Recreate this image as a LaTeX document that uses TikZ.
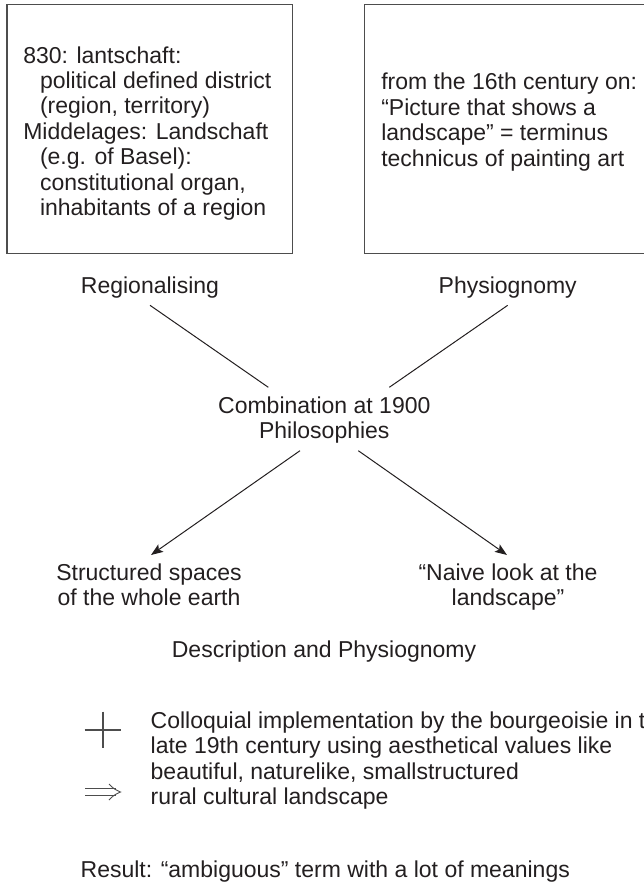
\documentclass[tikz,border=0pt]{standalone}
\usepackage{fontspec}
\setmainfont{Liberation Sans}
\usetikzlibrary{arrows.meta,calc}
\definecolor{ink}{HTML}{231F20}
\definecolor{frame}{HTML}{4D4D4D}
% stacked lines whose baseline is the baseline of the first line
\newcommand\leftlines[1]{\begin{tabular}[t]{@{}l@{}}#1\end{tabular}}
\newcommand\midlines[1]{\begin{tabular}[t]{@{}c@{}}#1\end{tabular}}
\begin{document}
\begin{tikzpicture}[x=1pt,y=-1pt,
  every node/.style={inner sep=0pt, outer sep=0pt, text=ink,
    font=\fontsize{23}{25.4}\selectfont},
  framebox/.style={draw=frame, line width=1.4pt, rectangle, anchor=north west},
  conn/.style={draw=ink, line width=1pt},
  arr/.style={conn, -{Stealth[length=12pt,width=9pt,inset=2.5pt]}},
  glyph/.style={draw=frame, line width=1.1pt}]
\useasboundingbox (0,0) rectangle (644,884);

% the two source boxes
\node[framebox, minimum width=285.7pt, minimum height=248.8pt] (lbox) at (7,4.5) {};
\node[framebox, minimum width=400pt, minimum height=248.8pt] (rbox) at (364.7,4.5) {};

\node[anchor=base west] (ltext) at (23.3,63) {\leftlines{%
  830: lantschaft:\\
  \hspace*{16.7pt}political defined district\\
  \hspace*{16.7pt}(region, territory)\\
  Middelages: Landschaft\\
  \hspace*{16.7pt}(e.g. of Basel):\\
  \hspace*{16.7pt}constitutional organ,\\
  \hspace*{16.7pt}inhabitants of a region}};

\node[anchor=base west] (rtext) at (381.3,89.8) {\leftlines{%
  from the 16th century on:\\
  “Picture that shows a\\
  landscape” = terminus\\
  technicus of painting art}};

% labels of the cross
\node[anchor=base] (reg) at (150,293) {Regionalising};
\node[anchor=base] (phys) at (507.7,293) {Physiognomy};
\node[anchor=base] (comb) at (324.3,413) {\midlines{Combination at 1900\\Philosophies}};
\node[anchor=base] (struct) at (149,580) {\midlines{Structured spaces\\of the whole earth}};
\node[anchor=base] (naive) at (508,580) {\midlines{“Naive look at the\\landscape”}};
\node[anchor=base] (descr) at (324,657) {Description and Physiognomy};

% connectors
\draw[conn] ($(reg.base)+(0,12.3)$) -- ($(comb.base)+(-56,-25.7)$);
\draw[conn] ($(phys.base)+(0,12.3)$) -- ($(comb.base)+(65,-25.7)$);
\draw[arr] ($(comb.base)+(-24.3,37.7)$) -- ($(struct.base)+(2,-25)$);
\draw[arr] ($(comb.base)+(34,37.7)$) -- ($(naive.base)+(-1,-25)$);

% colloquial use
\node[anchor=base west] (coll) at (150.7,728.3) {\leftlines{%
  Colloquial implementation by the bourgeoisie in the\\
  late 19th century using aesthetical values like\\
  beautiful, naturelike, smallstructured\\
  rural cultural landscape}};

% plus sign
\coordinate (plusC) at (103,730);
\draw[glyph] ($(plusC)+(-18.3,0)$) -- ($(plusC)+(18.3,0)$);
\draw[glyph] ($(plusC)+(0,-18.3)$) -- ($(plusC)+(0,18.3)$);

% implication sign
\coordinate (implC) at (85,792);
\draw[glyph, line width=0.9pt] (implC) ++(0,-3.6) -- ++(31,0);
\draw[glyph, line width=0.9pt] (implC) ++(0,3.6) -- ++(31,0);
\draw[glyph, line width=0.9pt, line join=miter]
  ($(implC)+(24,-8)$) .. controls ($(implC)+(29,-3)$) .. ($(implC)+(35.5,0)$)
  .. controls ($(implC)+(29,3)$) .. ($(implC)+(24,8)$);

\node[anchor=base west] (result) at (80.7,877) {Result: “ambiguous” term with a lot of meanings};
\end{tikzpicture}
\end{document}
